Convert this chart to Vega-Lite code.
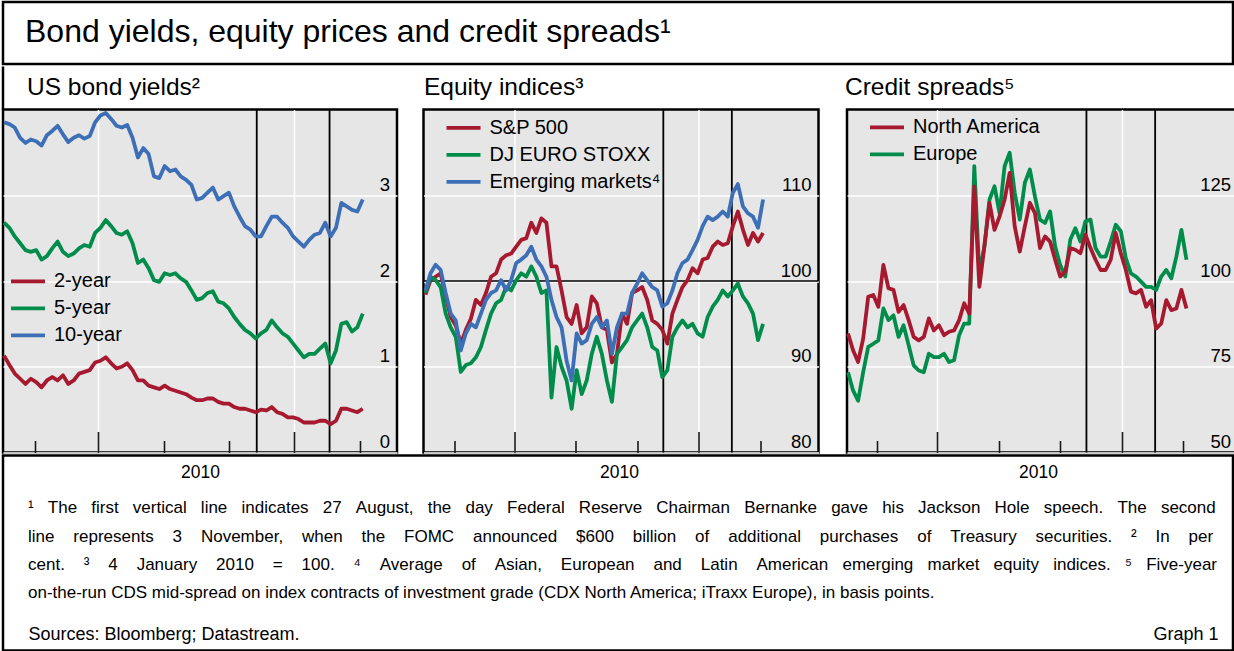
{
"$schema": "https://vega.github.io/schema/vega-lite/v6.json",
"background": "white",
"padding": {"left": 0, "top": 0, "right": 0, "bottom": 0},
"spacing": -2.5,
"config": {
  "font": "Liberation Sans",
  "view": {"stroke": "black", "strokeWidth": 2.5},
  "axis": {"labelFont": "Liberation Sans", "labelFontSize": 18.5, "labelColor": "black"},
  "legend": {"labelFont": "Liberation Sans", "labelFontSize": 20, "labelColor": "black", "labelLimit": 0, "symbolType": "stroke", "symbolStrokeWidth": 5, "symbolSize": 1156, "labelOffset": 7, "clipHeight": 26.7, "rowPadding": 0, "padding": 0},
  "title": {"font": "Liberation Sans", "fontWeight": "normal", "color": "black", "anchor": "start", "frame": "group", "baseline": "alphabetic"},
  "line": {"strokeWidth": 3.8, "strokeJoin": "round"}
},
"datasets": {
  "events": [{"date": "2010-08-27", "event": "Jackson Hole speech"}, {"date": "2010-11-03", "event": "FOMC announcement"}],
  "yields": [
{"date":"2010-01-03","series":"2-year","value":1.13},{"date":"2010-01-08","series":"2-year","value":1.02},{"date":"2010-01-13","series":"2-year","value":0.92},{"date":"2010-01-18","series":"2-year","value":0.86},{"date":"2010-01-23","series":"2-year","value":0.80},{"date":"2010-01-28","series":"2-year","value":0.86},{"date":"2010-02-02","series":"2-year","value":0.82},{"date":"2010-02-07","series":"2-year","value":0.76},{"date":"2010-02-12","series":"2-year","value":0.84},{"date":"2010-02-17","series":"2-year","value":0.88},{"date":"2010-02-22","series":"2-year","value":0.84},{"date":"2010-02-27","series":"2-year","value":0.90},{"date":"2010-03-04","series":"2-year","value":0.80},{"date":"2010-03-09","series":"2-year","value":0.84},{"date":"2010-03-14","series":"2-year","value":0.92},{"date":"2010-03-19","series":"2-year","value":0.94},{"date":"2010-03-24","series":"2-year","value":0.96},{"date":"2010-03-29","series":"2-year","value":1.05},{"date":"2010-04-03","series":"2-year","value":1.07},{"date":"2010-04-08","series":"2-year","value":1.11},{"date":"2010-04-13","series":"2-year","value":1.04},{"date":"2010-04-18","series":"2-year","value":0.98},{"date":"2010-04-23","series":"2-year","value":1.00},{"date":"2010-04-28","series":"2-year","value":1.04},{"date":"2010-05-03","series":"2-year","value":0.96},{"date":"2010-05-08","series":"2-year","value":0.84},{"date":"2010-05-13","series":"2-year","value":0.84},{"date":"2010-05-18","series":"2-year","value":0.78},{"date":"2010-05-23","series":"2-year","value":0.76},{"date":"2010-05-28","series":"2-year","value":0.74},{"date":"2010-06-02","series":"2-year","value":0.78},{"date":"2010-06-07","series":"2-year","value":0.74},{"date":"2010-06-12","series":"2-year","value":0.72},{"date":"2010-06-17","series":"2-year","value":0.70},{"date":"2010-06-22","series":"2-year","value":0.68},{"date":"2010-06-27","series":"2-year","value":0.64},{"date":"2010-07-02","series":"2-year","value":0.61},{"date":"2010-07-07","series":"2-year","value":0.61},{"date":"2010-07-12","series":"2-year","value":0.63},{"date":"2010-07-17","series":"2-year","value":0.63},{"date":"2010-07-22","series":"2-year","value":0.59},{"date":"2010-07-27","series":"2-year","value":0.57},{"date":"2010-08-01","series":"2-year","value":0.57},{"date":"2010-08-06","series":"2-year","value":0.53},{"date":"2010-08-11","series":"2-year","value":0.51},{"date":"2010-08-16","series":"2-year","value":0.51},{"date":"2010-08-21","series":"2-year","value":0.49},{"date":"2010-08-26","series":"2-year","value":0.47},{"date":"2010-08-31","series":"2-year","value":0.50},{"date":"2010-09-05","series":"2-year","value":0.49},{"date":"2010-09-10","series":"2-year","value":0.53},{"date":"2010-09-15","series":"2-year","value":0.47},{"date":"2010-09-20","series":"2-year","value":0.45},{"date":"2010-09-25","series":"2-year","value":0.41},{"date":"2010-09-30","series":"2-year","value":0.41},{"date":"2010-10-05","series":"2-year","value":0.39},{"date":"2010-10-10","series":"2-year","value":0.35},{"date":"2010-10-15","series":"2-year","value":0.35},{"date":"2010-10-20","series":"2-year","value":0.35},{"date":"2010-10-25","series":"2-year","value":0.37},{"date":"2010-10-30","series":"2-year","value":0.37},{"date":"2010-11-04","series":"2-year","value":0.33},{"date":"2010-11-09","series":"2-year","value":0.37},{"date":"2010-11-14","series":"2-year","value":0.51},{"date":"2010-11-19","series":"2-year","value":0.51},{"date":"2010-11-24","series":"2-year","value":0.49},{"date":"2010-11-29","series":"2-year","value":0.47},{"date":"2010-12-04","series":"2-year","value":0.51},
{"date":"2010-01-03","series":"5-year","value":2.68},{"date":"2010-01-08","series":"5-year","value":2.62},{"date":"2010-01-13","series":"5-year","value":2.52},{"date":"2010-01-18","series":"5-year","value":2.44},{"date":"2010-01-23","series":"5-year","value":2.36},{"date":"2010-01-28","series":"5-year","value":2.34},{"date":"2010-02-02","series":"5-year","value":2.36},{"date":"2010-02-07","series":"5-year","value":2.25},{"date":"2010-02-12","series":"5-year","value":2.29},{"date":"2010-02-17","series":"5-year","value":2.38},{"date":"2010-02-22","series":"5-year","value":2.46},{"date":"2010-02-27","series":"5-year","value":2.34},{"date":"2010-03-04","series":"5-year","value":2.29},{"date":"2010-03-09","series":"5-year","value":2.32},{"date":"2010-03-14","series":"5-year","value":2.38},{"date":"2010-03-19","series":"5-year","value":2.42},{"date":"2010-03-24","series":"5-year","value":2.40},{"date":"2010-03-29","series":"5-year","value":2.56},{"date":"2010-04-03","series":"5-year","value":2.62},{"date":"2010-04-08","series":"5-year","value":2.71},{"date":"2010-04-13","series":"5-year","value":2.64},{"date":"2010-04-18","series":"5-year","value":2.56},{"date":"2010-04-23","series":"5-year","value":2.54},{"date":"2010-04-28","series":"5-year","value":2.58},{"date":"2010-05-03","series":"5-year","value":2.44},{"date":"2010-05-08","series":"5-year","value":2.21},{"date":"2010-05-13","series":"5-year","value":2.25},{"date":"2010-05-18","series":"5-year","value":2.15},{"date":"2010-05-23","series":"5-year","value":2.01},{"date":"2010-05-28","series":"5-year","value":1.99},{"date":"2010-06-02","series":"5-year","value":2.09},{"date":"2010-06-07","series":"5-year","value":2.07},{"date":"2010-06-12","series":"5-year","value":2.09},{"date":"2010-06-17","series":"5-year","value":2.03},{"date":"2010-06-22","series":"5-year","value":1.99},{"date":"2010-06-27","series":"5-year","value":1.89},{"date":"2010-07-02","series":"5-year","value":1.78},{"date":"2010-07-07","series":"5-year","value":1.80},{"date":"2010-07-12","series":"5-year","value":1.86},{"date":"2010-07-17","series":"5-year","value":1.88},{"date":"2010-07-22","series":"5-year","value":1.76},{"date":"2010-07-27","series":"5-year","value":1.74},{"date":"2010-08-01","series":"5-year","value":1.68},{"date":"2010-08-06","series":"5-year","value":1.58},{"date":"2010-08-11","series":"5-year","value":1.50},{"date":"2010-08-16","series":"5-year","value":1.43},{"date":"2010-08-21","series":"5-year","value":1.39},{"date":"2010-08-26","series":"5-year","value":1.33},{"date":"2010-08-31","series":"5-year","value":1.39},{"date":"2010-09-05","series":"5-year","value":1.43},{"date":"2010-09-10","series":"5-year","value":1.54},{"date":"2010-09-15","series":"5-year","value":1.46},{"date":"2010-09-20","series":"5-year","value":1.39},{"date":"2010-09-25","series":"5-year","value":1.35},{"date":"2010-09-30","series":"5-year","value":1.27},{"date":"2010-10-05","series":"5-year","value":1.19},{"date":"2010-10-10","series":"5-year","value":1.11},{"date":"2010-10-15","series":"5-year","value":1.15},{"date":"2010-10-20","series":"5-year","value":1.15},{"date":"2010-10-25","series":"5-year","value":1.21},{"date":"2010-10-30","series":"5-year","value":1.27},{"date":"2010-11-04","series":"5-year","value":1.04},{"date":"2010-11-09","series":"5-year","value":1.19},{"date":"2010-11-14","series":"5-year","value":1.50},{"date":"2010-11-19","series":"5-year","value":1.52},{"date":"2010-11-24","series":"5-year","value":1.41},{"date":"2010-11-29","series":"5-year","value":1.46},{"date":"2010-12-04","series":"5-year","value":1.62},
{"date":"2010-01-03","series":"10-year","value":3.85},{"date":"2010-01-08","series":"10-year","value":3.83},{"date":"2010-01-13","series":"10-year","value":3.79},{"date":"2010-01-18","series":"10-year","value":3.67},{"date":"2010-01-23","series":"10-year","value":3.61},{"date":"2010-01-28","series":"10-year","value":3.65},{"date":"2010-02-02","series":"10-year","value":3.63},{"date":"2010-02-07","series":"10-year","value":3.58},{"date":"2010-02-12","series":"10-year","value":3.70},{"date":"2010-02-17","series":"10-year","value":3.75},{"date":"2010-02-22","series":"10-year","value":3.81},{"date":"2010-02-27","series":"10-year","value":3.71},{"date":"2010-03-04","series":"10-year","value":3.62},{"date":"2010-03-09","series":"10-year","value":3.67},{"date":"2010-03-14","series":"10-year","value":3.70},{"date":"2010-03-19","series":"10-year","value":3.66},{"date":"2010-03-24","series":"10-year","value":3.69},{"date":"2010-03-29","series":"10-year","value":3.85},{"date":"2010-04-03","series":"10-year","value":3.93},{"date":"2010-04-08","series":"10-year","value":3.96},{"date":"2010-04-13","series":"10-year","value":3.89},{"date":"2010-04-18","series":"10-year","value":3.81},{"date":"2010-04-23","series":"10-year","value":3.79},{"date":"2010-04-28","series":"10-year","value":3.82},{"date":"2010-05-03","series":"10-year","value":3.67},{"date":"2010-05-08","series":"10-year","value":3.44},{"date":"2010-05-13","series":"10-year","value":3.55},{"date":"2010-05-18","series":"10-year","value":3.48},{"date":"2010-05-23","series":"10-year","value":3.22},{"date":"2010-05-28","series":"10-year","value":3.20},{"date":"2010-06-02","series":"10-year","value":3.34},{"date":"2010-06-07","series":"10-year","value":3.28},{"date":"2010-06-12","series":"10-year","value":3.30},{"date":"2010-06-17","series":"10-year","value":3.22},{"date":"2010-06-22","series":"10-year","value":3.18},{"date":"2010-06-27","series":"10-year","value":3.12},{"date":"2010-07-02","series":"10-year","value":2.95},{"date":"2010-07-07","series":"10-year","value":2.97},{"date":"2010-07-12","series":"10-year","value":3.03},{"date":"2010-07-17","series":"10-year","value":3.09},{"date":"2010-07-22","series":"10-year","value":2.95},{"date":"2010-07-27","series":"10-year","value":2.99},{"date":"2010-08-01","series":"10-year","value":3.03},{"date":"2010-08-06","series":"10-year","value":2.87},{"date":"2010-08-11","series":"10-year","value":2.75},{"date":"2010-08-16","series":"10-year","value":2.64},{"date":"2010-08-21","series":"10-year","value":2.60},{"date":"2010-08-26","series":"10-year","value":2.52},{"date":"2010-08-31","series":"10-year","value":2.52},{"date":"2010-09-05","series":"10-year","value":2.64},{"date":"2010-09-10","series":"10-year","value":2.75},{"date":"2010-09-15","series":"10-year","value":2.75},{"date":"2010-09-20","series":"10-year","value":2.68},{"date":"2010-09-25","series":"10-year","value":2.62},{"date":"2010-09-30","series":"10-year","value":2.52},{"date":"2010-10-05","series":"10-year","value":2.46},{"date":"2010-10-10","series":"10-year","value":2.40},{"date":"2010-10-15","series":"10-year","value":2.48},{"date":"2010-10-20","series":"10-year","value":2.54},{"date":"2010-10-25","series":"10-year","value":2.56},{"date":"2010-10-30","series":"10-year","value":2.68},{"date":"2010-11-04","series":"10-year","value":2.52},{"date":"2010-11-09","series":"10-year","value":2.62},{"date":"2010-11-14","series":"10-year","value":2.91},{"date":"2010-11-19","series":"10-year","value":2.87},{"date":"2010-11-24","series":"10-year","value":2.83},{"date":"2010-11-29","series":"10-year","value":2.81},{"date":"2010-12-04","series":"10-year","value":2.95}
  ],
  "equity": [
{"date":"2010-01-03","series":"S&P 500","value":98.4},{"date":"2010-01-08","series":"S&P 500","value":100.1},{"date":"2010-01-13","series":"S&P 500","value":100.5},{"date":"2010-01-18","series":"S&P 500","value":100.9},{"date":"2010-01-23","series":"S&P 500","value":98.2},{"date":"2010-01-28","series":"S&P 500","value":95.8},{"date":"2010-02-02","series":"S&P 500","value":94.8},{"date":"2010-02-07","series":"S&P 500","value":92.7},{"date":"2010-02-12","series":"S&P 500","value":94.3},{"date":"2010-02-17","series":"S&P 500","value":95.6},{"date":"2010-02-22","series":"S&P 500","value":97.8},{"date":"2010-02-27","series":"S&P 500","value":97.2},{"date":"2010-03-04","series":"S&P 500","value":98.6},{"date":"2010-03-09","series":"S&P 500","value":100.5},{"date":"2010-03-14","series":"S&P 500","value":100.9},{"date":"2010-03-19","series":"S&P 500","value":102.5},{"date":"2010-03-24","series":"S&P 500","value":103.0},{"date":"2010-03-29","series":"S&P 500","value":103.2},{"date":"2010-04-03","series":"S&P 500","value":104.0},{"date":"2010-04-08","series":"S&P 500","value":104.8},{"date":"2010-04-13","series":"S&P 500","value":105.0},{"date":"2010-04-18","series":"S&P 500","value":106.8},{"date":"2010-04-23","series":"S&P 500","value":105.6},{"date":"2010-04-28","series":"S&P 500","value":107.3},{"date":"2010-05-03","series":"S&P 500","value":106.8},{"date":"2010-05-08","series":"S&P 500","value":101.7},{"date":"2010-05-13","series":"S&P 500","value":101.7},{"date":"2010-05-18","series":"S&P 500","value":98.9},{"date":"2010-05-23","series":"S&P 500","value":95.8},{"date":"2010-05-28","series":"S&P 500","value":95.0},{"date":"2010-06-02","series":"S&P 500","value":97.2},{"date":"2010-06-07","series":"S&P 500","value":93.9},{"date":"2010-06-12","series":"S&P 500","value":94.6},{"date":"2010-06-17","series":"S&P 500","value":98.2},{"date":"2010-06-22","series":"S&P 500","value":97.4},{"date":"2010-06-27","series":"S&P 500","value":94.6},{"date":"2010-07-02","series":"S&P 500","value":94.3},{"date":"2010-07-07","series":"S&P 500","value":90.5},{"date":"2010-07-12","series":"S&P 500","value":91.5},{"date":"2010-07-17","series":"S&P 500","value":96.2},{"date":"2010-07-22","series":"S&P 500","value":95.0},{"date":"2010-07-27","series":"S&P 500","value":98.6},{"date":"2010-08-01","series":"S&P 500","value":98.9},{"date":"2010-08-06","series":"S&P 500","value":99.3},{"date":"2010-08-11","series":"S&P 500","value":97.8},{"date":"2010-08-16","series":"S&P 500","value":95.4},{"date":"2010-08-21","series":"S&P 500","value":95.0},{"date":"2010-08-26","series":"S&P 500","value":94.3},{"date":"2010-08-31","series":"S&P 500","value":92.7},{"date":"2010-09-05","series":"S&P 500","value":96.2},{"date":"2010-09-10","series":"S&P 500","value":97.8},{"date":"2010-09-15","series":"S&P 500","value":99.3},{"date":"2010-09-20","series":"S&P 500","value":100.1},{"date":"2010-09-25","series":"S&P 500","value":101.5},{"date":"2010-09-30","series":"S&P 500","value":100.9},{"date":"2010-10-05","series":"S&P 500","value":102.5},{"date":"2010-10-10","series":"S&P 500","value":102.7},{"date":"2010-10-15","series":"S&P 500","value":104.0},{"date":"2010-10-20","series":"S&P 500","value":104.6},{"date":"2010-10-25","series":"S&P 500","value":104.2},{"date":"2010-10-30","series":"S&P 500","value":104.4},{"date":"2010-11-04","series":"S&P 500","value":106.4},{"date":"2010-11-09","series":"S&P 500","value":108.1},{"date":"2010-11-14","series":"S&P 500","value":106.0},{"date":"2010-11-19","series":"S&P 500","value":104.2},{"date":"2010-11-24","series":"S&P 500","value":105.6},{"date":"2010-11-29","series":"S&P 500","value":104.6},{"date":"2010-12-04","series":"S&P 500","value":105.6},
{"date":"2010-01-03","series":"DJ EURO STOXX","value":98.6},{"date":"2010-01-08","series":"DJ EURO STOXX","value":100.5},{"date":"2010-01-13","series":"DJ EURO STOXX","value":100.1},{"date":"2010-01-18","series":"DJ EURO STOXX","value":99.3},{"date":"2010-01-23","series":"DJ EURO STOXX","value":96.2},{"date":"2010-01-28","series":"DJ EURO STOXX","value":94.6},{"date":"2010-02-02","series":"DJ EURO STOXX","value":93.5},{"date":"2010-02-07","series":"DJ EURO STOXX","value":89.4},{"date":"2010-02-12","series":"DJ EURO STOXX","value":90.2},{"date":"2010-02-17","series":"DJ EURO STOXX","value":90.4},{"date":"2010-02-22","series":"DJ EURO STOXX","value":91.1},{"date":"2010-02-27","series":"DJ EURO STOXX","value":92.3},{"date":"2010-03-04","series":"DJ EURO STOXX","value":94.3},{"date":"2010-03-09","series":"DJ EURO STOXX","value":96.2},{"date":"2010-03-14","series":"DJ EURO STOXX","value":97.4},{"date":"2010-03-19","series":"DJ EURO STOXX","value":97.8},{"date":"2010-03-24","series":"DJ EURO STOXX","value":99.3},{"date":"2010-03-29","series":"DJ EURO STOXX","value":98.9},{"date":"2010-04-03","series":"DJ EURO STOXX","value":100.1},{"date":"2010-04-08","series":"DJ EURO STOXX","value":100.9},{"date":"2010-04-13","series":"DJ EURO STOXX","value":100.5},{"date":"2010-04-18","series":"DJ EURO STOXX","value":101.7},{"date":"2010-04-23","series":"DJ EURO STOXX","value":100.5},{"date":"2010-04-28","series":"DJ EURO STOXX","value":98.6},{"date":"2010-05-03","series":"DJ EURO STOXX","value":98.9},{"date":"2010-05-08","series":"DJ EURO STOXX","value":86.4},{"date":"2010-05-13","series":"DJ EURO STOXX","value":92.3},{"date":"2010-05-18","series":"DJ EURO STOXX","value":90.0},{"date":"2010-05-23","series":"DJ EURO STOXX","value":88.4},{"date":"2010-05-28","series":"DJ EURO STOXX","value":85.1},{"date":"2010-06-02","series":"DJ EURO STOXX","value":89.6},{"date":"2010-06-07","series":"DJ EURO STOXX","value":86.8},{"date":"2010-06-12","series":"DJ EURO STOXX","value":88.4},{"date":"2010-06-17","series":"DJ EURO STOXX","value":91.5},{"date":"2010-06-22","series":"DJ EURO STOXX","value":93.5},{"date":"2010-06-27","series":"DJ EURO STOXX","value":91.5},{"date":"2010-07-02","series":"DJ EURO STOXX","value":88.4},{"date":"2010-07-07","series":"DJ EURO STOXX","value":85.9},{"date":"2010-07-12","series":"DJ EURO STOXX","value":91.5},{"date":"2010-07-17","series":"DJ EURO STOXX","value":92.3},{"date":"2010-07-22","series":"DJ EURO STOXX","value":93.1},{"date":"2010-07-27","series":"DJ EURO STOXX","value":94.6},{"date":"2010-08-01","series":"DJ EURO STOXX","value":95.4},{"date":"2010-08-06","series":"DJ EURO STOXX","value":96.2},{"date":"2010-08-11","series":"DJ EURO STOXX","value":94.6},{"date":"2010-08-16","series":"DJ EURO STOXX","value":92.3},{"date":"2010-08-21","series":"DJ EURO STOXX","value":91.9},{"date":"2010-08-26","series":"DJ EURO STOXX","value":88.8},{"date":"2010-08-31","series":"DJ EURO STOXX","value":89.6},{"date":"2010-09-05","series":"DJ EURO STOXX","value":93.5},{"date":"2010-09-10","series":"DJ EURO STOXX","value":94.6},{"date":"2010-09-15","series":"DJ EURO STOXX","value":95.4},{"date":"2010-09-20","series":"DJ EURO STOXX","value":94.6},{"date":"2010-09-25","series":"DJ EURO STOXX","value":95.0},{"date":"2010-09-30","series":"DJ EURO STOXX","value":93.9},{"date":"2010-10-05","series":"DJ EURO STOXX","value":93.5},{"date":"2010-10-10","series":"DJ EURO STOXX","value":95.8},{"date":"2010-10-15","series":"DJ EURO STOXX","value":97.0},{"date":"2010-10-20","series":"DJ EURO STOXX","value":97.8},{"date":"2010-10-25","series":"DJ EURO STOXX","value":98.9},{"date":"2010-10-30","series":"DJ EURO STOXX","value":98.2},{"date":"2010-11-04","series":"DJ EURO STOXX","value":98.9},{"date":"2010-11-09","series":"DJ EURO STOXX","value":99.7},{"date":"2010-11-14","series":"DJ EURO STOXX","value":98.2},{"date":"2010-11-19","series":"DJ EURO STOXX","value":97.4},{"date":"2010-11-24","series":"DJ EURO STOXX","value":96.2},{"date":"2010-11-29","series":"DJ EURO STOXX","value":93.1},{"date":"2010-12-04","series":"DJ EURO STOXX","value":95.0},
{"date":"2010-01-03","series":"Emerging markets","value":98.9},{"date":"2010-01-08","series":"Emerging markets","value":100.9},{"date":"2010-01-13","series":"Emerging markets","value":101.9},{"date":"2010-01-18","series":"Emerging markets","value":101.3},{"date":"2010-01-23","series":"Emerging markets","value":98.6},{"date":"2010-01-28","series":"Emerging markets","value":96.2},{"date":"2010-02-02","series":"Emerging markets","value":95.4},{"date":"2010-02-07","series":"Emerging markets","value":91.9},{"date":"2010-02-12","series":"Emerging markets","value":93.9},{"date":"2010-02-17","series":"Emerging markets","value":95.0},{"date":"2010-02-22","series":"Emerging markets","value":94.6},{"date":"2010-02-27","series":"Emerging markets","value":96.2},{"date":"2010-03-04","series":"Emerging markets","value":97.8},{"date":"2010-03-09","series":"Emerging markets","value":98.6},{"date":"2010-03-14","series":"Emerging markets","value":98.9},{"date":"2010-03-19","series":"Emerging markets","value":100.1},{"date":"2010-03-24","series":"Emerging markets","value":98.9},{"date":"2010-03-29","series":"Emerging markets","value":100.1},{"date":"2010-04-03","series":"Emerging markets","value":102.1},{"date":"2010-04-08","series":"Emerging markets","value":102.5},{"date":"2010-04-13","series":"Emerging markets","value":103.0},{"date":"2010-04-18","series":"Emerging markets","value":104.0},{"date":"2010-04-23","series":"Emerging markets","value":102.5},{"date":"2010-04-28","series":"Emerging markets","value":101.7},{"date":"2010-05-03","series":"Emerging markets","value":100.5},{"date":"2010-05-08","series":"Emerging markets","value":97.8},{"date":"2010-05-13","series":"Emerging markets","value":95.8},{"date":"2010-05-18","series":"Emerging markets","value":94.6},{"date":"2010-05-23","series":"Emerging markets","value":90.7},{"date":"2010-05-28","series":"Emerging markets","value":88.4},{"date":"2010-06-02","series":"Emerging markets","value":93.9},{"date":"2010-06-07","series":"Emerging markets","value":92.7},{"date":"2010-06-12","series":"Emerging markets","value":93.1},{"date":"2010-06-17","series":"Emerging markets","value":95.0},{"date":"2010-06-22","series":"Emerging markets","value":95.8},{"date":"2010-06-27","series":"Emerging markets","value":94.6},{"date":"2010-07-02","series":"Emerging markets","value":95.4},{"date":"2010-07-07","series":"Emerging markets","value":91.5},{"date":"2010-07-12","series":"Emerging markets","value":94.6},{"date":"2010-07-17","series":"Emerging markets","value":96.2},{"date":"2010-07-22","series":"Emerging markets","value":96.2},{"date":"2010-07-27","series":"Emerging markets","value":98.6},{"date":"2010-08-01","series":"Emerging markets","value":99.7},{"date":"2010-08-06","series":"Emerging markets","value":100.9},{"date":"2010-08-11","series":"Emerging markets","value":100.1},{"date":"2010-08-16","series":"Emerging markets","value":99.3},{"date":"2010-08-21","series":"Emerging markets","value":98.9},{"date":"2010-08-26","series":"Emerging markets","value":97.0},{"date":"2010-08-31","series":"Emerging markets","value":97.4},{"date":"2010-09-05","series":"Emerging markets","value":98.9},{"date":"2010-09-10","series":"Emerging markets","value":100.9},{"date":"2010-09-15","series":"Emerging markets","value":102.1},{"date":"2010-09-20","series":"Emerging markets","value":102.5},{"date":"2010-09-25","series":"Emerging markets","value":103.6},{"date":"2010-09-30","series":"Emerging markets","value":104.8},{"date":"2010-10-05","series":"Emerging markets","value":106.4},{"date":"2010-10-10","series":"Emerging markets","value":107.5},{"date":"2010-10-15","series":"Emerging markets","value":107.1},{"date":"2010-10-20","series":"Emerging markets","value":107.5},{"date":"2010-10-25","series":"Emerging markets","value":108.1},{"date":"2010-10-30","series":"Emerging markets","value":107.5},{"date":"2010-11-04","series":"Emerging markets","value":110.3},{"date":"2010-11-09","series":"Emerging markets","value":111.3},{"date":"2010-11-14","series":"Emerging markets","value":108.7},{"date":"2010-11-19","series":"Emerging markets","value":107.9},{"date":"2010-11-24","series":"Emerging markets","value":107.5},{"date":"2010-11-29","series":"Emerging markets","value":106.2},{"date":"2010-12-04","series":"Emerging markets","value":109.5}
  ],
  "credit": [
{"date":"2010-01-03","series":"Europe","value":73.4},{"date":"2010-01-08","series":"Europe","value":68.1},{"date":"2010-01-13","series":"Europe","value":65.1},{"date":"2010-01-18","series":"Europe","value":73.4},{"date":"2010-01-23","series":"Europe","value":80.8},{"date":"2010-01-28","series":"Europe","value":81.7},{"date":"2010-02-02","series":"Europe","value":82.7},{"date":"2010-02-07","series":"Europe","value":92.0},{"date":"2010-02-12","series":"Europe","value":88.6},{"date":"2010-02-17","series":"Europe","value":90.0},{"date":"2010-02-22","series":"Europe","value":83.7},{"date":"2010-02-27","series":"Europe","value":87.1},{"date":"2010-03-04","series":"Europe","value":81.3},{"date":"2010-03-09","series":"Europe","value":75.4},{"date":"2010-03-14","series":"Europe","value":73.9},{"date":"2010-03-19","series":"Europe","value":73.4},{"date":"2010-03-24","series":"Europe","value":78.8},{"date":"2010-03-29","series":"Europe","value":77.8},{"date":"2010-04-03","series":"Europe","value":77.8},{"date":"2010-04-08","series":"Europe","value":78.8},{"date":"2010-04-13","series":"Europe","value":76.4},{"date":"2010-04-18","series":"Europe","value":76.9},{"date":"2010-04-23","series":"Europe","value":84.2},{"date":"2010-04-28","series":"Europe","value":87.6},{"date":"2010-05-03","series":"Europe","value":87.6},{"date":"2010-05-08","series":"Europe","value":133.5},{"date":"2010-05-13","series":"Europe","value":102.2},{"date":"2010-05-18","series":"Europe","value":110.1},{"date":"2010-05-23","series":"Europe","value":123.7},{"date":"2010-05-28","series":"Europe","value":127.6},{"date":"2010-06-02","series":"Europe","value":119.8},{"date":"2010-06-07","series":"Europe","value":133.5},{"date":"2010-06-12","series":"Europe","value":137.4},{"date":"2010-06-17","series":"Europe","value":125.7},{"date":"2010-06-22","series":"Europe","value":117.9},{"date":"2010-06-27","series":"Europe","value":128.6},{"date":"2010-07-02","series":"Europe","value":132.5},{"date":"2010-07-07","series":"Europe","value":124.7},{"date":"2010-07-12","series":"Europe","value":117.9},{"date":"2010-07-17","series":"Europe","value":116.9},{"date":"2010-07-22","series":"Europe","value":120.3},{"date":"2010-07-27","series":"Europe","value":110.1},{"date":"2010-08-01","series":"Europe","value":104.7},{"date":"2010-08-06","series":"Europe","value":101.3},{"date":"2010-08-11","series":"Europe","value":112.0},{"date":"2010-08-16","series":"Europe","value":115.4},{"date":"2010-08-21","series":"Europe","value":111.5},{"date":"2010-08-26","series":"Europe","value":117.4},{"date":"2010-08-31","series":"Europe","value":117.9},{"date":"2010-09-05","series":"Europe","value":109.6},{"date":"2010-09-10","series":"Europe","value":107.1},{"date":"2010-09-15","series":"Europe","value":107.1},{"date":"2010-09-20","series":"Europe","value":111.5},{"date":"2010-09-25","series":"Europe","value":116.4},{"date":"2010-09-30","series":"Europe","value":114.5},{"date":"2010-10-05","series":"Europe","value":106.6},{"date":"2010-10-10","series":"Europe","value":102.2},{"date":"2010-10-15","series":"Europe","value":101.3},{"date":"2010-10-20","series":"Europe","value":99.8},{"date":"2010-10-25","series":"Europe","value":98.3},{"date":"2010-10-30","series":"Europe","value":98.3},{"date":"2010-11-04","series":"Europe","value":97.4},{"date":"2010-11-09","series":"Europe","value":101.3},{"date":"2010-11-14","series":"Europe","value":103.2},{"date":"2010-11-19","series":"Europe","value":100.8},{"date":"2010-11-24","series":"Europe","value":107.1},{"date":"2010-11-29","series":"Europe","value":114.9},{"date":"2010-12-04","series":"Europe","value":106.2},
{"date":"2010-01-03","series":"North America","value":84.7},{"date":"2010-01-08","series":"North America","value":79.8},{"date":"2010-01-13","series":"North America","value":76.4},{"date":"2010-01-18","series":"North America","value":83.2},{"date":"2010-01-23","series":"North America","value":95.4},{"date":"2010-01-28","series":"North America","value":95.9},{"date":"2010-02-02","series":"North America","value":92.5},{"date":"2010-02-07","series":"North America","value":104.7},{"date":"2010-02-12","series":"North America","value":97.9},{"date":"2010-02-17","series":"North America","value":97.4},{"date":"2010-02-22","series":"North America","value":91.0},{"date":"2010-02-27","series":"North America","value":93.0},{"date":"2010-03-04","series":"North America","value":88.6},{"date":"2010-03-09","series":"North America","value":83.7},{"date":"2010-03-14","series":"North America","value":82.7},{"date":"2010-03-19","series":"North America","value":83.7},{"date":"2010-03-24","series":"North America","value":89.1},{"date":"2010-03-29","series":"North America","value":85.6},{"date":"2010-04-03","series":"North America","value":87.1},{"date":"2010-04-08","series":"North America","value":84.2},{"date":"2010-04-13","series":"North America","value":85.2},{"date":"2010-04-18","series":"North America","value":85.6},{"date":"2010-04-23","series":"North America","value":88.6},{"date":"2010-04-28","series":"North America","value":93.5},{"date":"2010-05-03","series":"North America","value":90.5},{"date":"2010-05-08","series":"North America","value":127.6},{"date":"2010-05-13","series":"North America","value":98.3},{"date":"2010-05-18","series":"North America","value":110.1},{"date":"2010-05-23","series":"North America","value":122.8},{"date":"2010-05-28","series":"North America","value":114.9},{"date":"2010-06-02","series":"North America","value":118.8},{"date":"2010-06-07","series":"North America","value":123.7},{"date":"2010-06-12","series":"North America","value":131.5},{"date":"2010-06-17","series":"North America","value":115.9},{"date":"2010-06-22","series":"North America","value":108.6},{"date":"2010-06-27","series":"North America","value":115.9},{"date":"2010-07-02","series":"North America","value":122.8},{"date":"2010-07-07","series":"North America","value":119.8},{"date":"2010-07-12","series":"North America","value":109.6},{"date":"2010-07-17","series":"North America","value":113.0},{"date":"2010-07-22","series":"North America","value":111.5},{"date":"2010-07-27","series":"North America","value":106.2},{"date":"2010-08-01","series":"North America","value":101.3},{"date":"2010-08-06","series":"North America","value":102.7},{"date":"2010-08-11","series":"North America","value":109.6},{"date":"2010-08-16","series":"North America","value":109.1},{"date":"2010-08-21","series":"North America","value":108.1},{"date":"2010-08-26","series":"North America","value":113.5},{"date":"2010-08-31","series":"North America","value":109.6},{"date":"2010-09-05","series":"North America","value":106.2},{"date":"2010-09-10","series":"North America","value":103.2},{"date":"2010-09-15","series":"North America","value":103.2},{"date":"2010-09-20","series":"North America","value":106.2},{"date":"2010-09-25","series":"North America","value":114.0},{"date":"2010-09-30","series":"North America","value":108.1},{"date":"2010-10-05","series":"North America","value":103.2},{"date":"2010-10-10","series":"North America","value":96.9},{"date":"2010-10-15","series":"North America","value":96.4},{"date":"2010-10-20","series":"North America","value":97.4},{"date":"2010-10-25","series":"North America","value":92.5},{"date":"2010-10-30","series":"North America","value":94.4},{"date":"2010-11-04","series":"North America","value":86.1},{"date":"2010-11-09","series":"North America","value":87.6},{"date":"2010-11-14","series":"North America","value":94.4},{"date":"2010-11-19","series":"North America","value":91.5},{"date":"2010-11-24","series":"North America","value":92.0},{"date":"2010-11-29","series":"North America","value":97.4},{"date":"2010-12-04","series":"North America","value":92.0}
  ]
},
"vconcat": [
  {
    "width": 1230, "height": 62,
    "view": {"stroke": "black", "strokeWidth": 2.5},
    "title": {"text": "Bond yields, equity prices and credit spreads¹", "fontSize": 32, "offset": -47, "dx": 22},
    "data": {"values": [{}]},
    "mark": {"type": "text", "text": ""}
  },
  {
    "spacing": 22.5,
    "resolve": {"scale": {"color": "independent"}, "legend": {"color": "independent"}},
    "hconcat": [
      {
        "width": 394, "height": 343,
        "view": {"fill": "#e6e6e6"},
        "title": {"text": "US bond yields²", "fontSize": 24.5, "offset": -35.3, "dx": 24},
        "layer": [
          {"data": {"name": "events"}, "mark": {"type": "rule", "color": "black", "strokeWidth": 1.8},
           "encoding": {"x": {"field": "date", "type": "temporal", "title": null, "scale": {"type": "utc", "domain": [{"year": 2010, "month": 1, "date": 2, "utc": true}, {"year": 2011, "month": 1, "date": 5, "utc": true}]}}}},
          {"data": {"values": [{}]}, "mark": {"type": "rule", "color": "black", "strokeWidth": 2.5},
           "encoding": {"x": {"datum": {"year": 2010, "month": 1, "date": 2, "utc": true}, "type": "temporal", "title": null, "scale": {"type": "utc", "domain": [{"year": 2010, "month": 1, "date": 2, "utc": true}, {"year": 2011, "month": 1, "date": 5, "utc": true}]}},
                        "y": {"datum": 4, "type": "quantitative", "title": null, "scale": {"domain": [0, 4]}},
                        "y2": {"datum": 4.5015}}},
          {"data": {"name": "yields"}, "mark": {"type": "line"},
           "encoding": {
             "x": {"field": "date", "type": "temporal", "title": null,
                   "scale": {"type": "utc", "domain": [{"year": 2010, "month": 1, "date": 2, "utc": true}, {"year": 2011, "month": 1, "date": 5, "utc": true}]},
                   "axis": {"values": [{"year":2010,"month":2,"date":1,"utc":true},{"year":2010,"month":3,"date":1,"utc":true},{"year":2010,"month":4,"date":1,"utc":true},{"year":2010,"month":5,"date":1,"utc":true},{"year":2010,"month":6,"date":1,"utc":true},{"year":2010,"month":7,"date":1,"utc":true},{"year":2010,"month":8,"date":1,"utc":true},{"year":2010,"month":9,"date":1,"utc":true},{"year":2010,"month":10,"date":1,"utc":true},{"year":2010,"month":11,"date":1,"utc":true},{"year":2010,"month":12,"date":1,"utc":true}],
                            "labels": false, "domain": false, "title": null, "ticks": true, "tickColor": "#1a1a1a", "tickWidth": 1.6,
                            "tickSize": {"condition": {"test": "utcmonth(datum.value) % 3 === 0", "value": -21}, "value": -12},
                            "grid": true, "gridColor": "white", "gridWidth": 1.5,
                            "gridOpacity": {"condition": {"test": "utcmonth(datum.value) % 3 === 0", "value": 1}, "value": 0}}},
             "y": {"field": "value", "type": "quantitative", "title": null, "scale": {"domain": [0, 4]},
                   "axis": {"orient": "right", "values": [0, 1, 2, 3], "format": "d", "title": null, "domain": false, "ticks": false, "tickSize": 0, "labelPadding": -7.5, "labelAlign": "right", "labelBaseline": "alphabetic", "labelOffset": -5, "grid": true, "gridColor": "white", "gridWidth": 1.5}},
             "color": {"field": "series", "type": "nominal", "scale": {"domain": ["2-year", "5-year", "10-year"], "range": ["#a6192e", "#008c4b", "#3d6fb6"]},
                       "legend": {"orient": "none", "legendX": 6, "legendY": 158.6, "title": null}}
           }}
        ]
      },
      {
        "width": 395, "height": 343,
        "view": {"fill": "#e6e6e6"},
        "title": {"text": "Equity indices³", "fontSize": 24.5, "offset": 7.8, "dx": 0.5},
        "layer": [
          {"data": {"name": "events"}, "mark": {"type": "rule", "color": "black", "strokeWidth": 1.8},
           "encoding": {"x": {"field": "date", "type": "temporal", "title": null, "scale": {"type": "utc", "domain": [{"year": 2010, "month": 1, "date": 1, "utc": true}, {"year": 2011, "month": 1, "date": 28, "utc": true}]}}}},
          {"data": {"values": [{}]}, "mark": {"type": "rule", "color": "black", "strokeWidth": 1.5},
           "encoding": {"y": {"datum": 100, "type": "quantitative", "title": null, "scale": {"domain": [80, 120]}}}},
          {"data": {"name": "equity"}, "mark": {"type": "line"},
           "encoding": {
             "x": {"field": "date", "type": "temporal", "title": null,
                   "scale": {"type": "utc", "domain": [{"year": 2010, "month": 1, "date": 1, "utc": true}, {"year": 2011, "month": 1, "date": 28, "utc": true}]},
                   "axis": {"values": [{"year":2010,"month":2,"date":1,"utc":true},{"year":2010,"month":3,"date":1,"utc":true},{"year":2010,"month":4,"date":1,"utc":true},{"year":2010,"month":5,"date":1,"utc":true},{"year":2010,"month":6,"date":1,"utc":true},{"year":2010,"month":7,"date":1,"utc":true},{"year":2010,"month":8,"date":1,"utc":true},{"year":2010,"month":9,"date":1,"utc":true},{"year":2010,"month":10,"date":1,"utc":true},{"year":2010,"month":11,"date":1,"utc":true},{"year":2010,"month":12,"date":1,"utc":true}],
                            "labels": false, "domain": false, "title": null, "ticks": true, "tickColor": "#1a1a1a", "tickWidth": 1.6,
                            "tickSize": {"condition": {"test": "utcmonth(datum.value) % 3 === 0", "value": -21}, "value": -12},
                            "grid": true, "gridColor": "white", "gridWidth": 1.5,
                            "gridOpacity": {"condition": {"test": "utcmonth(datum.value) % 3 === 0", "value": 1}, "value": 0}}},
             "y": {"field": "value", "type": "quantitative", "title": null, "scale": {"domain": [80, 120]},
                   "axis": {"orient": "right", "values": [80, 90, 100, 110], "format": "d", "title": null, "domain": false, "ticks": false, "tickSize": 0, "labelPadding": -7.5, "labelAlign": "right", "labelBaseline": "alphabetic", "labelOffset": -5, "grid": true, "gridColor": "white", "gridWidth": 1.5}},
             "color": {"field": "series", "type": "nominal", "scale": {"domain": ["S&P 500", "DJ EURO STOXX", "Emerging markets"], "range": ["#a6192e", "#008c4b", "#3d6fb6"]},
                       "legend": {"orient": "none", "legendX": 21, "legendY": 5, "title": null, "labelExpr": "datum.label === 'Emerging markets' ? 'Emerging markets⁴' : datum.label"}}
           }}
        ]
      },
      {
        "width": 391, "height": 343,
        "view": {"fill": "#e6e6e6"},
        "title": {"text": "Credit spreads⁵", "fontSize": 24.5, "offset": -35.3, "dx": -2},
        "layer": [
          {"data": {"name": "events"}, "mark": {"type": "rule", "color": "black", "strokeWidth": 1.8},
           "encoding": {"x": {"field": "date", "type": "temporal", "title": null, "scale": {"type": "utc", "domain": [{"year": 2010, "month": 1, "date": 2, "utc": true}, {"year": 2011, "month": 1, "date": 24, "utc": true}]}}}},
          {"data": {"values": [{}]}, "mark": {"type": "rule", "color": "black", "strokeWidth": 2.5},
           "encoding": {"x": {"datum": {"year": 2011, "month": 1, "date": 24, "utc": true}, "type": "temporal", "title": null, "scale": {"type": "utc", "domain": [{"year": 2010, "month": 1, "date": 2, "utc": true}, {"year": 2011, "month": 1, "date": 24, "utc": true}]}},
                        "y": {"datum": 150, "type": "quantitative", "title": null, "scale": {"domain": [50, 150]}},
                        "y2": {"datum": 162.54}}},
          {"data": {"name": "credit"}, "mark": {"type": "line"},
           "encoding": {
             "x": {"field": "date", "type": "temporal", "title": null,
                   "scale": {"type": "utc", "domain": [{"year": 2010, "month": 1, "date": 2, "utc": true}, {"year": 2011, "month": 1, "date": 24, "utc": true}]},
                   "axis": {"values": [{"year":2010,"month":2,"date":1,"utc":true},{"year":2010,"month":3,"date":1,"utc":true},{"year":2010,"month":4,"date":1,"utc":true},{"year":2010,"month":5,"date":1,"utc":true},{"year":2010,"month":6,"date":1,"utc":true},{"year":2010,"month":7,"date":1,"utc":true},{"year":2010,"month":8,"date":1,"utc":true},{"year":2010,"month":9,"date":1,"utc":true},{"year":2010,"month":10,"date":1,"utc":true},{"year":2010,"month":11,"date":1,"utc":true},{"year":2010,"month":12,"date":1,"utc":true}],
                            "labels": false, "domain": false, "title": null, "ticks": true, "tickColor": "#1a1a1a", "tickWidth": 1.6,
                            "tickSize": {"condition": {"test": "utcmonth(datum.value) % 3 === 0", "value": -21}, "value": -12},
                            "grid": true, "gridColor": "white", "gridWidth": 1.5,
                            "gridOpacity": {"condition": {"test": "utcmonth(datum.value) % 3 === 0", "value": 1}, "value": 0}}},
             "y": {"field": "value", "type": "quantitative", "title": null, "scale": {"domain": [50, 150]},
                   "axis": {"orient": "right", "values": [50, 75, 100, 125], "format": "d", "title": null, "domain": false, "ticks": false, "tickSize": 0, "labelPadding": -7.5, "labelAlign": "right", "labelBaseline": "alphabetic", "labelOffset": -5, "grid": true, "gridColor": "white", "gridWidth": 1.5}},
             "color": {"field": "series", "type": "nominal", "scale": {"domain": ["North America", "Europe"], "range": ["#a6192e", "#008c4b"]},
                       "legend": {"orient": "none", "legendX": 21, "legendY": 4.6, "title": null}}
           }}
        ]
      }
    ]
  },
  {
    "width": 1230, "height": 195,
    "title": {"text": [
      "¹ \u00a0\u00a0The \u00a0\u00a0first \u00a0\u00a0vertical \u00a0\u00a0line \u00a0\u00a0indicates \u00a0\u00a027 \u00a0\u00a0August, \u00a0\u00a0the \u00a0\u00a0day \u00a0\u00a0Federal \u00a0\u00a0Reserve \u00a0\u00a0Chairman \u00a0\u00a0Bernanke \u00a0\u00a0gave \u00a0\u00a0his \u00a0\u00a0Jackson \u00a0\u00a0Hole \u00a0\u00a0speech. \u00a0\u00a0The \u00a0\u00a0second",
      "line \u00a0\u00a0\u00a0represents \u00a0\u00a0\u00a03 \u00a0\u00a0\u00a0November, \u00a0\u00a0\u00a0when \u00a0\u00a0\u00a0the \u00a0\u00a0\u00a0FOMC \u00a0\u00a0\u00a0announced \u00a0\u00a0\u00a0$600 \u00a0\u00a0\u00a0billion \u00a0\u00a0\u00a0of \u00a0\u00a0\u00a0additional \u00a0\u00a0\u00a0purchases \u00a0\u00a0\u00a0of \u00a0\u00a0\u00a0Treasury \u00a0\u00a0\u00a0securities. \u00a0\u00a0\u00a0² \u00a0\u00a0\u00a0In \u00a0\u00a0\u00a0per",
      "cent. \u00a0\u00a0\u00a0³ \u00a0\u00a0\u00a04 \u00a0\u00a0\u00a0January \u00a0\u00a0\u00a02010 \u00a0\u00a0\u00a0= \u00a0\u00a0\u00a0100. \u00a0\u00a0\u00a0⁴ \u00a0\u00a0\u00a0Average \u00a0\u00a0\u00a0of \u00a0\u00a0\u00a0Asian, \u00a0\u00a0\u00a0European \u00a0\u00a0\u00a0and \u00a0\u00a0\u00a0Latin \u00a0\u00a0\u00a0American \u00a0\u00a0emerging \u00a0\u00a0market \u00a0\u00a0equity \u00a0\u00a0indices. \u00a0\u00a0⁵ \u00a0\u00a0Five-year",
      "on-the-run CDS mid-spread on index contracts of investment grade (CDX North America; iTraxx Europe), in basis points."
    ], "fontSize": 17, "offset": -146.7, "dx": 25, "lineHeight": 28.3, "baseline": "top"},
    "data": {"values": [
      {"panel": "US bond yields", "source": "Sources: Bloomberg; Datastream."},
      {"panel": "Equity indices", "source": "Sources: Bloomberg; Datastream."},
      {"panel": "Credit spreads", "source": "Sources: Bloomberg; Datastream."}
    ]},
    "mark": {"type": "point", "opacity": 0},
    "encoding": {
      "x": {"field": "panel", "type": "nominal", "sort": null,
            "scale": {"type": "point", "domain": ["US bond yields", "Equity indices", "Credit spreads"], "range": [197, 1035], "padding": 0},
            "axis": {"orient": "top", "title": null, "domain": false, "ticks": false, "grid": false, "labelExpr": "'2010'", "labelPadding": -22, "labelBaseline": "alphabetic", "labelFontSize": 17.5, "labelAngle": 0}},
      "y": {"field": "source", "type": "nominal",
            "axis": {"orient": "left", "title": "Graph 1", "titleAngle": 0, "titleAlign": "right", "titleBaseline": "alphabetic", "titleX": 1215, "titleY": 183.75, "titleFontSize": 18, "titleFontWeight": "normal", "titleColor": "black", "titleFont": "Liberation Sans",
                     "domain": false, "ticks": false, "grid": false, "labelAlign": "left", "labelPadding": -25, "labelBaseline": "alphabetic", "labelOffset": 86.25, "labelLimit": 0, "labelFontSize": 18}}
    }
  }
]
}
